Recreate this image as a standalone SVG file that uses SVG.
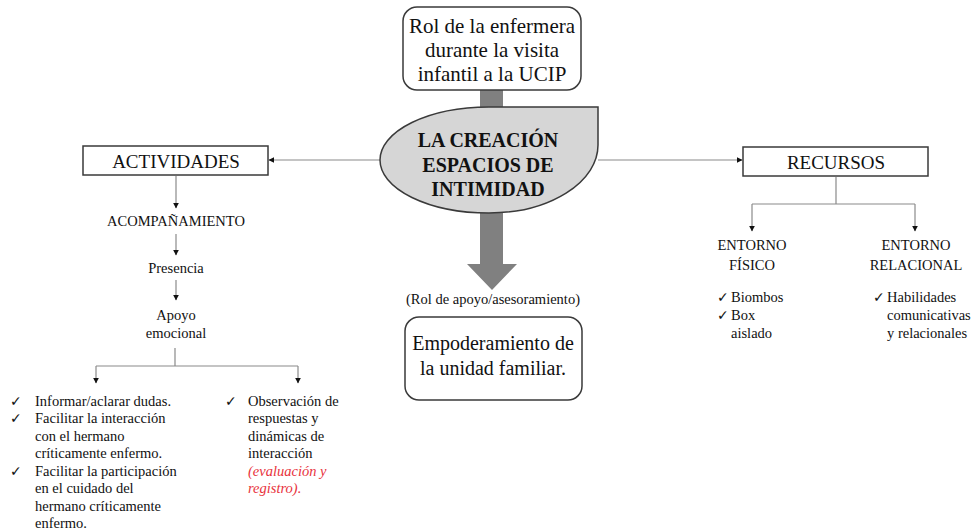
<svg xmlns="http://www.w3.org/2000/svg" width="971" height="532" viewBox="0 0 971 532" font-family="'Liberation Serif', Tinos, 'Times New Roman', 'DejaVu Serif', serif">
<style>
text{font-family:'Liberation Serif',Tinos,'Times New Roman','DejaVu Serif',serif;fill:#111}
.c{text-anchor:middle}
.s14{font-size:14.5px}
.box{fill:#fff;stroke:#3a3a3a;stroke-width:1.5}
.ln{fill:none;stroke:#8a8a8a;stroke-width:1.2}
text.chk{font-family:'DejaVu Sans',sans-serif;font-size:14px}
.red{fill:#e8323c;font-style:italic}
</style>
<defs>
<marker id="ah" viewBox="0 0 10 10" refX="9" refY="5" markerWidth="6" markerHeight="6" orient="auto" markerUnits="userSpaceOnUse">
<path d="M0,0 L10,5 L0,10 Z" fill="#111"/>
</marker>
</defs>

<g id="connectors">
<rect x="480" y="90" width="23" height="18" fill="#808080"/>
<path d="M480,213 L503,213 L503,264 L517,264 L492,290 L467,264 L480,264 Z" fill="#808080"/>
<line class="ln" x1="380" y1="160" x2="269" y2="160" marker-end="url(#ah)"/>
<line class="ln" x1="598" y1="160" x2="742" y2="160" marker-end="url(#ah)"/>
<line class="ln" x1="176" y1="176" x2="176" y2="208" marker-end="url(#ah)"/>
<line class="ln" x1="176" y1="234" x2="176" y2="255" marker-end="url(#ah)"/>
<line class="ln" x1="176" y1="280" x2="176" y2="300" marker-end="url(#ah)"/>
<path class="ln" d="M175,348 L175,366 M96,366 L298,366"/>
<line class="ln" x1="96" y1="366" x2="96" y2="383" marker-end="url(#ah)"/>
<line class="ln" x1="298" y1="366" x2="298" y2="383" marker-end="url(#ah)"/>
<path class="ln" d="M836,177 L836,204 M752,204 L915,204"/>
<line class="ln" x1="752" y1="204" x2="752" y2="231" marker-end="url(#ah)"/>
<line class="ln" x1="915" y1="204" x2="915" y2="231" marker-end="url(#ah)"/>
</g>

<g id="rol">
<rect class="box" x="403" y="7" width="178" height="83" rx="14"/>
<text class="c" x="492" y="33" font-size="21">Rol de la enfermera</text>
<text class="c" x="492" y="57" font-size="21">durante la visita</text>
<text class="c" x="492" y="81" font-size="21">infantil a la UCIP</text>
</g>

<g id="central">
<path d="M380,160 A109,53 0 0 1 489,107 L598,107 L598,145 A109,68 0 0 1 489,213 A109,53 0 0 1 380,160 Z" fill="#d6d6d6" stroke="#3a3a3a" stroke-width="1.5"/>
<text class="c" x="488" y="147" font-size="20" font-weight="bold">LA CREACIÓN</text>
<text class="c" x="488" y="172" font-size="20" font-weight="bold">ESPACIOS DE</text>
<text class="c" x="488" y="196" font-size="20" font-weight="bold">INTIMIDAD</text>
</g>

<g id="rol-apoyo">
<text class="c s14" x="493" y="304">(Rol de apoyo/asesoramiento)</text>
</g>

<g id="empoderamiento">
<rect class="box" x="405" y="317" width="177" height="83" rx="14"/>
<text class="c" x="493" y="350" font-size="20">Empoderamiento de</text>
<text class="c" x="493" y="375" font-size="20">la unidad familiar.</text>
</g>

<g id="actividades">
<rect class="box" x="83" y="146" width="185" height="29"/>
<text class="c" x="176" y="168" font-size="19">ACTIVIDADES</text>
</g>

<g id="acompanamiento"><text class="c s14" x="176" y="226">ACOMPAÑAMIENTO</text></g>
<g id="presencia"><text class="c s14" x="176" y="273">Presencia</text></g>
<g id="apoyo">
<text class="c s14" x="176" y="320">Apoyo</text>
<text class="c s14" x="176" y="338">emocional</text>
</g>

<g id="lista-izq">
<text class="chk" x="10" y="406">✓</text>
<text class="chk" x="10" y="423">✓</text>
<text class="chk" x="10" y="476">✓</text>
<text class="s14" x="35" y="406">Informar/aclarar dudas.</text>
<text class="s14" x="35" y="423">Facilitar la interacción</text>
<text class="s14" x="35" y="441">con el hermano</text>
<text class="s14" x="35" y="458">críticamente enfermo.</text>
<text class="s14" x="35" y="476">Facilitar la participación</text>
<text class="s14" x="35" y="493">en el cuidado del</text>
<text class="s14" x="35" y="511">hermano críticamente</text>
<text class="s14" x="35" y="528">enfermo.</text>
</g>

<g id="lista-der">
<text class="chk" x="225" y="406">✓</text>
<text class="s14" x="248" y="406">Observación de</text>
<text class="s14" x="248" y="423">respuestas y</text>
<text class="s14" x="248" y="441">dinámicas de</text>
<text class="s14" x="248" y="458">interacción</text>
<text class="s14 red" x="248" y="476">(evaluación y</text>
<text class="s14 red" x="248" y="493">registro).</text>
</g>

<g id="recursos">
<rect class="box" x="743" y="147" width="185" height="29"/>
<text class="c" x="836" y="169" font-size="19">RECURSOS</text>
</g>

<g id="fisico">
<text class="c s14" x="752" y="250">ENTORNO</text>
<text class="c s14" x="752" y="270">FÍSICO</text>
<text class="chk" x="717" y="302">✓</text>
<text class="s14" x="731" y="302">Biombos</text>
<text class="chk" x="717" y="320">✓</text>
<text class="s14" x="731" y="320">Box</text>
<text class="s14" x="731" y="338">aislado</text>
</g>

<g id="relacional">
<text class="c s14" x="916" y="250">ENTORNO</text>
<text class="c s14" x="916" y="270">RELACIONAL</text>
<text class="chk" x="873" y="302">✓</text>
<text class="s14" x="887" y="302">Habilidades</text>
<text class="s14" x="887" y="320">comunicativas</text>
<text class="s14" x="887" y="338">y relacionales</text>
</g>
</svg>
